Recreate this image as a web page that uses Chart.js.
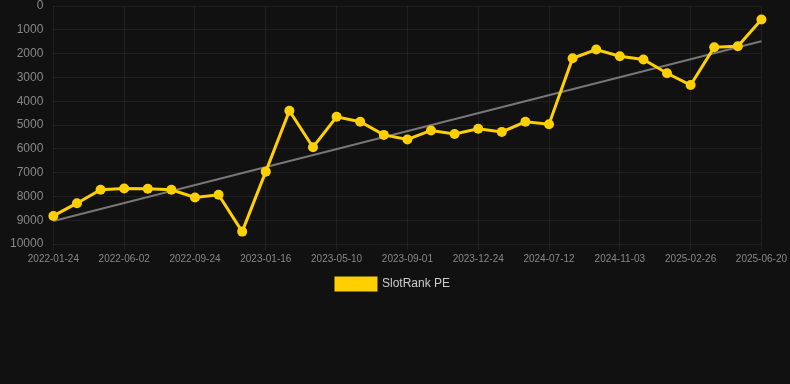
<!DOCTYPE html>
<html>
<head>
<meta charset="utf-8">
<script src="https://cdn.jsdelivr.net/npm/chart.js@4/dist/chart.umd.min.js"></script>
<style>
  html, body { margin: 0; padding: 0; background: #111111; }
  #wrap { width: 790px; height: 300px; position: relative; }
</style>
</head>
<body>
<div id="wrap"><canvas id="c"></canvas></div>
<script>
const dates = [
  "2022-01-24","2022-03-08","2022-04-20","2022-06-02","2022-07-10","2022-08-17",
  "2022-09-24","2022-10-31","2022-12-08","2023-01-16","2023-02-23","2023-04-02",
  "2023-05-10","2023-06-16","2023-07-24","2023-09-01","2023-10-08","2023-11-16",
  "2023-12-24","2024-03-03","2024-05-03","2024-07-12","2024-08-18","2024-09-26",
  "2024-11-03","2024-12-10","2025-01-18","2025-02-26","2025-04-04","2025-05-12",
  "2025-06-20"
];
const rankValues = [
  8820, 8285, 7720, 7665, 7680, 7720, 8045, 7930, 9480, 6960, 4400, 5935,
  4655, 4865, 5415, 5610, 5230, 5375, 5160, 5290, 4865, 4965, 2195, 1830,
  2110, 2250, 2825, 3320, 1730, 1690, 565
];
const trendValues = [
  9030, null, null, null, null, null, null, null, null, null, null, null,
  null, null, null, null, null, null, null, null, null, null, null, null,
  null, null, null, null, null, null, 1480
];
const yTicks = [0, 1000, 2000, 3000, 4000, 5000, 6000, 7000, 8000, 9000, 10000];

Chart.defaults.font.family = "'Liberation Sans', Arial, Helvetica, sans-serif";

new Chart(document.getElementById('c'), {
  type: 'line',
  data: {
    labels: dates,
    datasets: [
      {
        label: 'SlotRank PE',
        data: rankValues,
        borderColor: '#ffd000',
        backgroundColor: '#ffd000',
        borderWidth: 3,
        pointRadius: 5,
        pointBorderWidth: 0,
        pointHoverRadius: 5,
        pointBackgroundColor: '#ffd000',
        pointBorderColor: '#ffd000',
        tension: 0,
        clip: false,
        order: 1
      },
      {
        label: 'Trend',
        data: trendValues,
        borderColor: '#777777',
        backgroundColor: '#777777',
        borderWidth: 2,
        pointRadius: 0,
        spanGaps: true,
        tension: 0,
        order: 2
      }
    ]
  },
  options: {
    responsive: true,
    maintainAspectRatio: false,
    animation: false,
    layout: { autoPadding: false, padding: { left: 0, right: 4, top: 0, bottom: 0 } },
    plugins: {
      legend: {
        position: 'bottom',
        labels: {
          color: '#cccccc',
          font: { size: 12 },
          boxWidth: 40,
          boxHeight: 12,
          filter: (item) => item.text === 'SlotRank PE'
        }
      },
      tooltip: { enabled: false }
    },
    scales: {
      x: {
        type: 'category',
        grid: { color: 'rgba(255,255,255,0.06)', drawTicks: true, tickLength: 6 },
        border: { display: false },
        ticks: {
          color: '#888888',
          font: { size: 10 },
          maxRotation: 0,
          minRotation: 0,
          autoSkip: true
        }
      },
      y: {
        reverse: true,
        min: 0,
        max: 10000,
        afterBuildTicks: (axis) => { axis.ticks = yTicks.map(v => ({ value: v })); },
        afterFit: (axis) => { axis.paddingTop = 6; },
        grid: { color: 'rgba(255,255,255,0.06)', drawTicks: false },
        border: { display: false },
        ticks: {
          color: '#888888',
          font: { size: 12 },
          padding: 10,
          callback: (v) => String(v)
        }
      }
    }
  }
});
</script>
</body>
</html>
